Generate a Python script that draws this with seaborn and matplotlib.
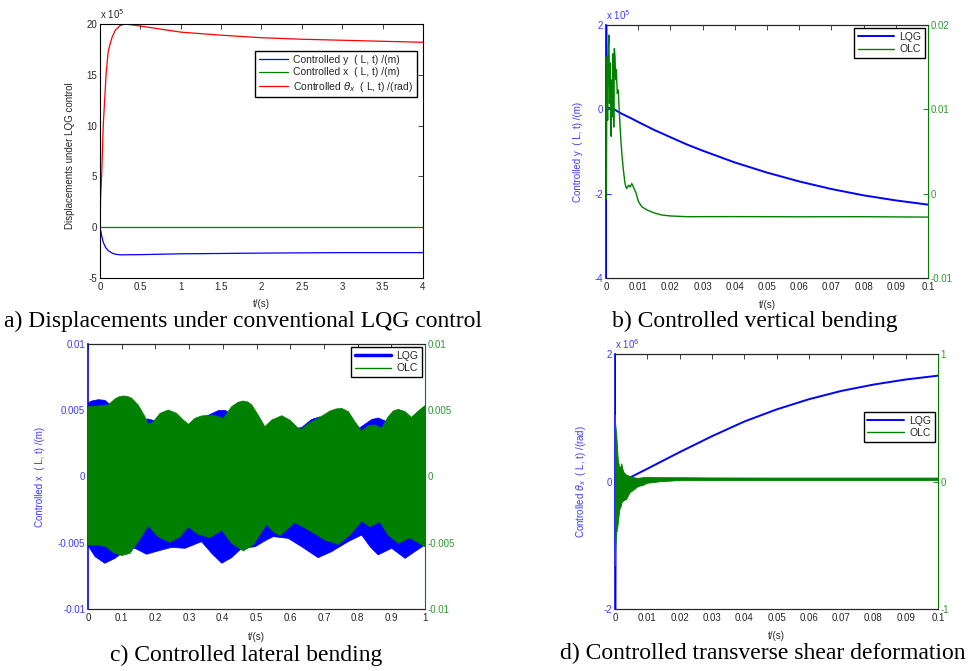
import numpy as np
import pandas as pd
import seaborn as sns
import matplotlib.pyplot as plt
from matplotlib.lines import Line2D

BLUE = "#0000ff"
GREEN = "#008000"
RED = "#ff0000"
BLUE_TXT = "#3b3bff"
GREEN_TXT = "#2f9a2f"

# --- a) displacements under conventional LQG control (x 1e5) ---
a_red_t = [0, 0.008, 0.02, 0.04, 0.075, 0.1, 0.124, 0.15, 0.19, 0.25, 0.31, 0.5, 1, 1.5, 2, 2.5, 3, 3.5, 4]
a_red_v = [0, 3.0, 5.0, 10.0, 15.0, 17.2, 18.0, 18.7, 19.4, 19.85, 20.0, 19.8, 19.2, 18.9, 18.65, 18.5, 18.4, 18.3, 18.2]
a_blue_t = [0, 0.02, 0.04, 0.07, 0.1, 0.15, 0.19, 0.25, 0.5, 1, 2, 3, 4]
a_blue_v = [0, -0.8, -1.48, -2.0, -2.3, -2.55, -2.66, -2.72, -2.7, -2.62, -2.55, -2.5, -2.5]
a_green_t = [0, 4]
a_green_v = [0, 0]
a_labels = ["Controlled y  ( L, t) /(m)", "Controlled x  ( L, t) /(m)",
            r"Controlled $\theta_x$  ( L, t) /(rad)"]

# --- b) vertical bending: LQG (x 1e5, left) / OLC (right) ---
b_lqg_t = [0, 0.00003, 0.0001, 0.0002, 0.0025, 0.005, 0.0075, 0.01, 0.015, 0.02, 0.025, 0.03, 0.04, 0.05,
           0.06, 0.07, 0.08, 0.09, 0.1]
b_lqg_v = [-4.5, 2.5, 2.5, 0.05, 0.0, -0.11, -0.2, -0.3, -0.49, -0.66, -0.83, -0.98, -1.26, -1.50,
           -1.71, -1.89, -2.04, -2.16, -2.26]
b_olc_t = [0, 0.0001, 0.0003, 0.0005, 0.0007, 0.0009, 0.0011, 0.0013, 0.0016, 0.0018, 0.002, 0.0022,
           0.0024, 0.0026, 0.0028, 0.003, 0.0032, 0.0035, 0.0038, 0.0041, 0.0046, 0.005, 0.0054, 0.0059,
           0.0064, 0.007, 0.0075, 0.008, 0.0085, 0.0093, 0.0101, 0.0111, 0.0127, 0.0147, 0.0173, 0.0199,
           0.0251, 0.04, 0.06, 0.08, 0.1]
b_olc_v = [-0.0004, -0.00055, 0.0162, 0.0087, 0.0170, 0.0188, 0.0107, 0.0155, 0.0068, 0.0135, 0.0091, 0.0166,
           0.0079, 0.0172, 0.0162, 0.0135, 0.0147, 0.0119, 0.0123, 0.0099, 0.0064, 0.0044, 0.0028, 0.0012,
           0.0006, 0.0010, 0.0008, 0.0012, 0.0008, 0.0001, -0.00095, -0.00154, -0.00193, -0.00225, -0.00253,
           -0.00264, -0.00273, -0.00272, -0.00274, -0.00273, -0.00278]

# --- c) lateral bending: oscillation envelopes (x 1e-3) ---
c_lqg_hi_t = [0, 0.011, 0.031, 0.050, 0.065, 0.090, 0.129, 0.159, 0.179, 0.199, 0.238, 0.278, 0.308,
              0.347, 0.387, 0.407, 0.426, 0.486, 0.545, 0.604, 0.634, 0.663, 0.688, 0.713, 0.753, 0.802,
              0.842, 0.861, 0.881, 0.921, 0.960, 1.0]
c_lqg_hi_v = [5.55, 5.70, 5.80, 5.75, 5.45, 5.0, 4.5, 4.3, 4.34, 4.2, 3.9, 3.85, 3.9, 4.5, 4.98, 5.0, 4.7,
              3.9, 3.5, 3.6, 3.69, 4.3, 4.5, 4.2, 3.6, 3.6, 4.3, 4.42, 4.2, 3.7, 3.8, 4.3]
c_lqg_lo_t = [0, 0.021, 0.050, 0.080, 0.110, 0.139, 0.174, 0.208, 0.248, 0.288, 0.337, 0.367, 0.397,
              0.426, 0.456, 0.496, 0.530, 0.550, 0.594, 0.634, 0.683, 0.723, 0.772, 0.812, 0.837, 0.861,
              0.901, 0.941, 0.970, 1.0]
c_lqg_lo_v = [-5.22, -6.05, -6.55, -6.18, -5.62, -5.42, -5.87, -5.62, -5.35, -5.42, -4.92, -5.80, -6.55,
              -6.13, -5.42, -5.30, -4.79, -4.54, -4.67, -5.30, -6.13, -5.67, -4.92, -4.42, -5.30, -5.92,
              -5.42, -6.18, -5.67, -5.17]
c_olc_hi_t = [0, 0.031, 0.060, 0.080, 0.092, 0.105, 0.118, 0.130, 0.149, 0.169, 0.179, 0.194, 0.214, 0.238,
              0.263, 0.283, 0.298, 0.317, 0.337, 0.367, 0.387, 0.402, 0.426, 0.445, 0.461, 0.475, 0.486,
              0.505, 0.525, 0.545, 0.575, 0.599, 0.624, 0.634, 0.654, 0.683, 0.718, 0.736, 0.753, 0.773,
              0.792, 0.812, 0.832, 0.852, 0.871, 0.891, 0.906, 0.921, 0.941, 0.960, 0.980, 1.0]
c_olc_hi_v = [5.27, 5.32, 5.40, 5.85, 6.02, 6.08, 6.04, 5.90, 5.40, 4.52, 3.94, 4.14, 4.77, 5.02, 4.77, 4.26,
              3.94, 4.39, 4.57, 4.64, 4.52, 4.39, 5.27, 5.60, 5.70, 5.62, 5.40, 4.64, 3.76, 4.26, 4.59, 4.26,
              3.64, 3.56, 4.01, 4.39, 4.94, 5.10, 5.14, 4.89, 4.14, 3.43, 3.84, 3.89, 3.64, 4.52, 4.95, 5.07,
              4.89, 4.47, 4.94, 5.35]
c_olc_lo_t = [0, 0.031, 0.055, 0.075, 0.100, 0.125, 0.149, 0.179, 0.208, 0.243, 0.273, 0.298, 0.327,
              0.362, 0.397, 0.426, 0.461, 0.490, 0.530, 0.550, 0.570, 0.614, 0.663, 0.703, 0.743, 0.777,
              0.812, 0.837, 0.866, 0.891, 0.921, 0.955, 1.0]
c_olc_lo_v = [-5.17, -5.17, -5.30, -5.73, -5.97, -5.80, -4.91, -3.71, -4.54, -4.97, -4.54, -3.79, -4.36,
              -4.62, -4.04, -5.04, -5.62, -5.17, -3.61, -4.16, -4.47, -3.46, -4.16, -4.79, -5.12, -4.42,
              -3.36, -3.79, -3.41, -4.42, -5.04, -4.62, -5.30]

# --- d) transverse shear: LQG (x 1e6, left) / OLC band (right) ---
d_lqg_t = [0, 0.00003, 0.0001, 0.0002, 0.003, 0.01, 0.02, 0.03, 0.04, 0.05, 0.06, 0.07, 0.08, 0.09, 0.1]
d_lqg_v = [2.5, -2.5, -2.5, 0.0, 0.02, 0.2, 0.46, 0.71, 0.94, 1.13, 1.29, 1.42, 1.52, 1.60, 1.66]
d_olc_t = [0, 0.0001, 0.0002, 0.0005, 0.0007, 0.001, 0.0015, 0.0019, 0.0021, 0.0024, 0.0028, 0.0036,
           0.0046, 0.0057, 0.0072, 0.0088, 0.01, 0.014, 0.019, 0.03, 0.05, 0.07, 0.1]
d_olc_hi = [0, 0.52, 0.45, 0.38, 0.30, 0.17, 0.10, 0.12, 0.14, 0.10, 0.07, 0.05, 0.04, 0.03, 0.025, 0.03,
            0.033, 0.03, 0.03, 0.028, 0.027, 0.027, 0.027]
d_olc_lo = [0, -0.66, -0.55, -0.40, -0.39, -0.33, -0.22, -0.20, -0.17, -0.16, -0.15, -0.14, -0.09, -0.07,
            -0.04, -0.03, -0.014, -0.002, 0.006, 0.007, 0.008, 0.008, 0.008]

x4_ticks = [0, 0.5, 1, 1.5, 2, 2.5, 3, 3.5, 4]
x4_labels = ["0", "0.5", "1", "1.5", "2", "2.5", "3", "3.5", "4"]
x01_ticks = [0, 0.01, 0.02, 0.03, 0.04, 0.05, 0.06, 0.07, 0.08, 0.09, 0.1]
x01_labels = ["0", "0.01", "0.02", "0.03", "0.04", "0.05", "0.06", "0.07", "0.08", "0.09", "0.1"]
x1_ticks = [0, 0.1, 0.2, 0.3, 0.4, 0.5, 0.6, 0.7, 0.8, 0.9, 1]
x1_labels = ["0", "0.1", "0.2", "0.3", "0.4", "0.5", "0.6", "0.7", "0.8", "0.9", "1"]
c_y_ticks = [-0.01, -0.005, 0, 0.005, 0.01]
c_y_labels = ["-0.01", "-0.005", "0", "0.005", "0.01"]

captions = ["a) Displacements under conventional LQG control", "b) Controlled vertical bending",
            "c) Controlled lateral bending", "d) Controlled transverse shear deformation"]

sns.set_theme(style="white")
plt.rcParams["font.family"] = ["Liberation Sans", "DejaVu Sans"]
plt.rcParams["axes.linewidth"] = 0.8

FS = 7


def base_style(ax, xt, xl, mirror_y=False):
    ax.set_xticks(xt)
    ax.set_xticklabels(xl)
    ax.set_xlim(xt[0], xt[-1])
    ax.tick_params(axis="x", direction="in", length=3.5, width=0.6, labelsize=FS, top=True, pad=3)
    ax.tick_params(axis="y", direction="in", length=3.5, width=0.6, labelsize=FS, right=mirror_y, pad=2)
    for s in ax.spines.values():
        s.set_color("black")
    ax.set_xlabel("t/(s)", fontsize=FS)
    ax.grid(False)


def twin_style(ax, ax2, right_spine=GREEN):
    ax.tick_params(axis="y", colors=BLUE, labelcolor=BLUE_TXT)
    ax.spines["left"].set_color(BLUE)
    ax.spines["left"].set_linewidth(1.2)
    ax.spines["right"].set_visible(False)
    ax2.spines["left"].set_visible(False)
    ax2.spines["right"].set_color(right_spine)
    ax2.tick_params(axis="y", direction="in", length=3.5, width=0.6, labelsize=FS,
                    colors=right_spine, labelcolor=GREEN_TXT, pad=2)
    ax2.grid(False)


def make_legend(ax, handles, labels, **kw):
    leg = ax.legend(handles, labels, loc="upper right", frameon=True, fancybox=False,
                    edgecolor="black", fontsize=7.5, labelspacing=0.25, borderpad=0.35,
                    handletextpad=0.5, framealpha=1, **kw)
    leg.get_frame().set_linewidth(1.0)
    return leg


fig = plt.figure(figsize=(9.78, 6.71), dpi=100)

# ---- a ----
ax = fig.add_axes([100 / 978, 1 - 278 / 671, 323 / 978, 254 / 671])
sns.lineplot(x=a_blue_t, y=a_blue_v, ax=ax, color=BLUE, lw=0.9, estimator=None, sort=False, label=a_labels[0])
sns.lineplot(x=a_green_t, y=a_green_v, ax=ax, color=GREEN, lw=0.9, estimator=None, sort=False, label=a_labels[1])
sns.lineplot(x=a_red_t, y=a_red_v, ax=ax, color=RED, lw=0.9, estimator=None, sort=False, label=a_labels[2])
base_style(ax, x4_ticks, x4_labels, mirror_y=True)
ax.set_ylim(-5, 20)
ax.set_yticks([-5, 0, 5, 10, 15, 20])
ax.set_yticklabels(["-5", "0", "5", "10", "15", "20"])
ax.set_ylabel("Displacements under LQG control", fontsize=FS)
ax.yaxis.set_label_coords(-0.077, 0.48)
ax.xaxis.set_label_coords(0.5, -0.083)
ax.text(0.0, 1.012, r"x 10$^5$", transform=ax.transAxes, fontsize=FS, va="bottom")
h, l = ax.get_legend_handles_labels()
ax.get_legend().remove()
make_legend(ax, h, l, bbox_to_anchor=(0.981, 0.894), borderaxespad=0, handlelength=2.8)

# ---- b ----
ax = fig.add_axes([606 / 978, 1 - 278 / 671, 322 / 978, 253 / 671])
ax2 = ax.twinx()
sns.lineplot(x=b_lqg_t, y=b_lqg_v, ax=ax, color=BLUE, lw=1.4, estimator=None, sort=False)
sns.lineplot(x=b_olc_t, y=b_olc_v, ax=ax2, color=GREEN, lw=1.0, estimator=None, sort=False)
base_style(ax, x01_ticks, x01_labels)
ax.set_ylim(-4, 2)
ax.set_yticks([-4, -2, 0, 2])
ax.set_yticklabels(["-4", "-2", "0", "2"])
ax2.set_ylim(-0.01, 0.02)
ax2.set_yticks([-0.01, 0, 0.01, 0.02])
ax2.set_yticklabels(["-0.01", "0", "0.01", "0.02"])
twin_style(ax, ax2)
ax.set_ylabel("Controlled y  ( L, t) /(m)", fontsize=FS, color=BLUE_TXT)
ax.yaxis.set_label_coords(-0.071, 0.5)
ax.xaxis.set_label_coords(0.5, -0.087)
ax.text(0.0, 1.012, r"x 10$^5$", transform=ax.transAxes, fontsize=FS, va="bottom", color=BLUE_TXT)
make_legend(ax2, [Line2D([], [], color=BLUE, lw=1.4), Line2D([], [], color=GREEN, lw=1.0)],
            ["LQG", "OLC"], handlelength=3.5, borderaxespad=0.3)

# ---- c ----
ax = fig.add_axes([88 / 978, 1 - 609 / 671, 337 / 978, 265 / 671])
ax2 = ax.twinx()
c_lqg = pd.DataFrame({"t": c_lqg_hi_t + c_lqg_lo_t[::-1],
                      "v": [v * 1e-3 for v in c_lqg_hi_v + c_lqg_lo_v[::-1]]})
c_olc = pd.DataFrame({"t": c_olc_hi_t + c_olc_lo_t[::-1],
                      "v": [v * 1e-3 for v in c_olc_hi_v + c_olc_lo_v[::-1]]})
ax.fill(c_lqg["t"], c_lqg["v"], color=BLUE, lw=0.5)
ax2.fill(c_olc["t"], c_olc["v"], color=GREEN, lw=0.5)
base_style(ax, x1_ticks, x1_labels)
for a in (ax, ax2):
    a.set_ylim(-0.01, 0.01)
    a.set_yticks(c_y_ticks)
    a.set_yticklabels(c_y_labels)
twin_style(ax, ax2, right_spine="#1f5f5f")
ax.set_ylabel("Controlled x  ( L, t) /(m)", fontsize=FS, color=BLUE_TXT)
ax.yaxis.set_label_coords(-0.128, 0.5)
ax.xaxis.set_label_coords(0.5, -0.087)
make_legend(ax2, [Line2D([], [], color=BLUE, lw=2.5), Line2D([], [], color=GREEN, lw=1.0)],
            ["LQG", "OLC"], handlelength=3.5, borderaxespad=0.3)

# ---- d ----
ax = fig.add_axes([615 / 978, 1 - 609 / 671, 323 / 978, 255 / 671])
ax2 = ax.twinx()
sns.lineplot(x=d_lqg_t, y=d_lqg_v, ax=ax, color=BLUE, lw=1.4, estimator=None, sort=False)
ax2.fill(d_olc_t + d_olc_t[::-1], d_olc_hi + d_olc_lo[::-1], color=GREEN, lw=0.6)
base_style(ax, x01_ticks, x01_labels)
ax.set_ylim(-2, 2)
ax.set_yticks([-2, 0, 2])
ax.set_yticklabels(["-2", "0", "2"])
ax2.set_ylim(-1, 1)
ax2.set_yticks([-1, 0, 1])
ax2.set_yticklabels(["-1", "0", "1"])
twin_style(ax, ax2)
ax.set_ylabel(r"Controlled $\theta_x$  ( L, t) /(rad)", fontsize=FS, color=BLUE_TXT)
ax.yaxis.set_label_coords(-0.084, 0.5)
ax.xaxis.set_label_coords(0.5, -0.086)
ax.text(0.0, 1.012, r"x 10$^6$", transform=ax.transAxes, fontsize=FS, va="bottom", color=BLUE_TXT)
make_legend(ax2, [Line2D([], [], color=BLUE, lw=1.4), Line2D([], [], color=GREEN, lw=1.0)],
            ["LQG", "OLC"], handlelength=3.5, bbox_to_anchor=(0.99, 0.773), borderaxespad=0)

# ---- captions ----
cap_pos = [(4, 321), (612, 321), (110, 655), (560, 653)]
for (cx, cy), txt in zip(cap_pos, captions):
    fig.text(cx / 978, 1 - cy / 671, txt, ha="left", va="center",
             family=["Liberation Serif", "DejaVu Serif"], fontsize=17, color="black")

fig.savefig("out.png", dpi=100)
